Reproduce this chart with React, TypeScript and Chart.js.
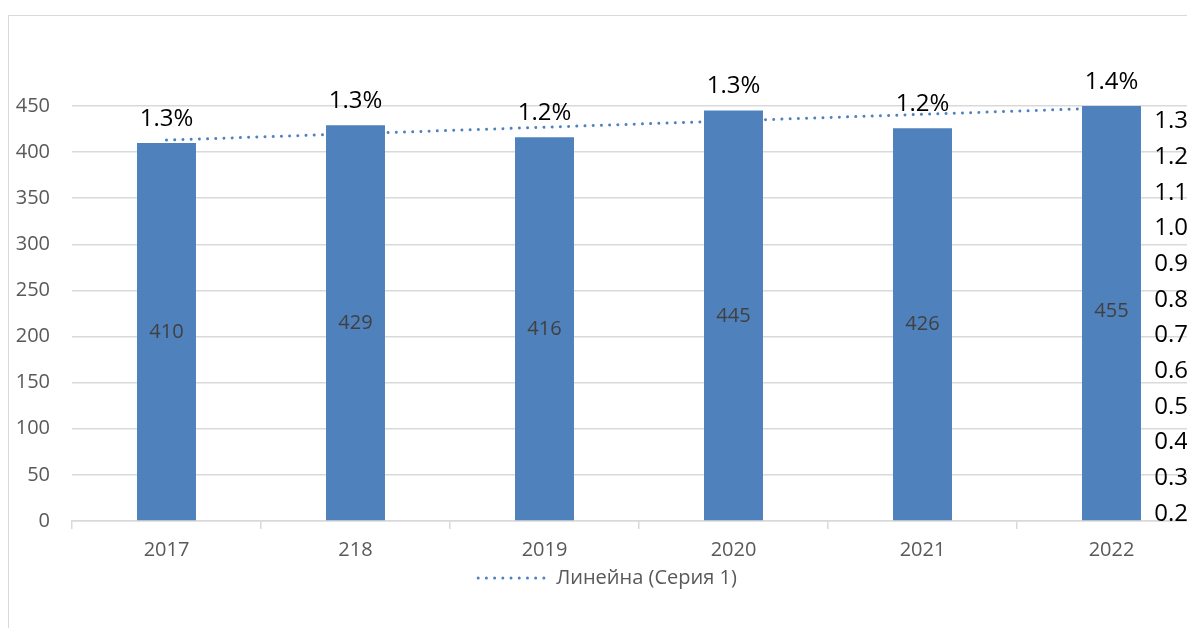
import React, { useEffect, useRef } from "react";
import { Chart, registerables } from "chart.js";

Chart.register(...registerables);

const categories = ["2017", "218", "2019", "2020", "2021", "2022"];
const barValues = [410, 429, 416, 445, 426, 455];
// linear trendline of the bars, read at its two ends (2017 and 2022)
const trendValues = [413, null, null, null, null, 448];
const pctLabels = ["1.3%", "1.3%", "1.2%", "1.3%", "1.2%", "1.4%"];
const rightTicks = [0.2, 0.3, 0.4, 0.5, 0.6, 0.7, 0.8, 0.9, 1.0, 1.1, 1.2, 1.3];
const leftMin = 0;
const leftMax = 450;
const leftStep = 50;
const rightMin = 0.18;
const rightMax = 1.343;
const legendText = "Линейна (Серия 1)";

const BLUE = "#4F81BD";
const GRID = "#d9d9d9";
const FONT = "'Open Sans', 'Noto Sans', sans-serif";

const labelsPlugin = {
  id: "valueLabels",
  afterDatasetsDraw(chart: any) {
    const { ctx, chartArea } = chart;
    const xs = chart.scales.x;
    const ys = chart.scales.y;
    ctx.save();
    ctx.textAlign = "center";
    ctx.textBaseline = "middle";
    // values inside bars
    ctx.font = `20px ${FONT}`;
    ctx.fillStyle = "#404040";
    barValues.forEach((v, i) => {
      const x = xs.getPixelForValue(i);
      const y = ys.getPixelForValue(v / 2);
      ctx.fillText(String(v), x, y);
    });
    // percentage labels above bars
    ctx.font = `24px ${FONT}`;
    ctx.fillStyle = "#000000";
    pctLabels.forEach((t, i) => {
      const x = xs.getPixelForValue(i);
      const top = Math.max(ys.getPixelForValue(barValues[i]), chartArea.top);
      ctx.fillText(t, x, top - 24);
    });
    ctx.restore();
  },
};

export default function App() {
  const ref = useRef<HTMLCanvasElement | null>(null);

  useEffect(() => {
    document.documentElement.style.overflow = "hidden";
    document.body.style.overflow = "hidden";
    Chart.defaults.font.family = FONT;
    const canvas = ref.current;
    if (!canvas) return;
    const chart = new Chart(canvas, {
      type: "bar",
      data: {
        labels: categories,
        datasets: [
          {
            type: "bar",
            label: "Серия 1",
            data: barValues,
            backgroundColor: BLUE,
            borderWidth: 0,
            categoryPercentage: 1,
            barPercentage: 0.312,
            yAxisID: "y",
            order: 0,
          },
          {
            type: "line",
            label: legendText,
            data: trendValues as any,
            borderColor: BLUE,
            borderWidth: 3,
            borderDash: [0.01, 8.2],
            borderCapStyle: "round",
            pointRadius: 0,
            spanGaps: true,
            fill: false,
            yAxisID: "y",
            order: 1,
          },
        ],
      },
      options: {
        animation: false,
        responsive: false,
        maintainAspectRatio: false,
        layout: { padding: { top: 90, right: 43, left: 0, bottom: 30 } },
        plugins: {
          tooltip: { enabled: false },
          legend: {
            display: true,
            position: "bottom",
            labels: {
              usePointStyle: true,
              pointStyleWidth: 68,
              boxHeight: 20,
              padding: 10,
              color: "#595959",
              font: { size: 20, family: FONT },
              generateLabels: () => [
                {
                  text: legendText,
                  fillStyle: "rgba(0,0,0,0)",
                  strokeStyle: BLUE,
                  lineWidth: 3,
                  lineDash: [0.01, 8.2],
                  lineCap: "round",
                  pointStyle: "line",
                  hidden: false,
                  datasetIndex: 1,
                  fontColor: "#595959",
                } as any,
              ],
            },
          },
        },
        scales: {
          x: {
            type: "category",
            offset: true,
            grid: {
              display: true,
              drawOnChartArea: false,
              drawTicks: true,
              tickLength: 8,
              color: GRID,
              lineWidth: 1.5,
              offset: true,
            },
            border: { display: true, color: GRID, width: 1.5 },
            ticks: {
              color: "#595959",
              font: { size: 20, family: FONT },
              padding: 9,
              maxRotation: 0,
              autoSkip: false,
            },
            afterFit: (s: any) => {
              s.height = 37;
            },
          },
          y: {
            type: "linear",
            position: "left",
            min: leftMin,
            max: leftMax,
            ticks: {
              stepSize: leftStep,
              color: "#595959",
              font: { size: 20, family: FONT },
              padding: 22,
            },
            grid: { color: GRID, lineWidth: 1.5, drawTicks: false },
            border: { display: false },
            afterFit: (s: any) => {
              s.width = 63;
            },
          },
          y1: {
            type: "linear",
            display: true,
            position: "right",
            min: rightMin,
            max: rightMax,
            grid: { display: false, drawOnChartArea: false },
            border: { display: false },
            ticks: {
              display: true,
              color: "#000000",
              font: { size: 24, family: FONT },
              mirror: true,
              padding: -18,
              callback: (v: any) => Number(v).toFixed(1),
            },
            afterBuildTicks: (s: any) => {
              s.ticks = rightTicks.map((v) => ({ value: v }));
            },
            afterFit: (s: any) => {
              s.width = 0;
            },
          },
        },
      },
      plugins: [labelsPlugin],
    });
    return () => chart.destroy();
  }, []);

  return (
    <div style={{ paddingTop: 7 }}>
      <div
        style={{
          border: `1px solid ${GRID}`,
          width: 1240,
          height: 612,
          background: "#fff",
        }}
      >
        <canvas ref={ref} width={1240} height={612} style={{ display: "block", width: 1240, height: 612 }} />
      </div>
    </div>
  );
}
